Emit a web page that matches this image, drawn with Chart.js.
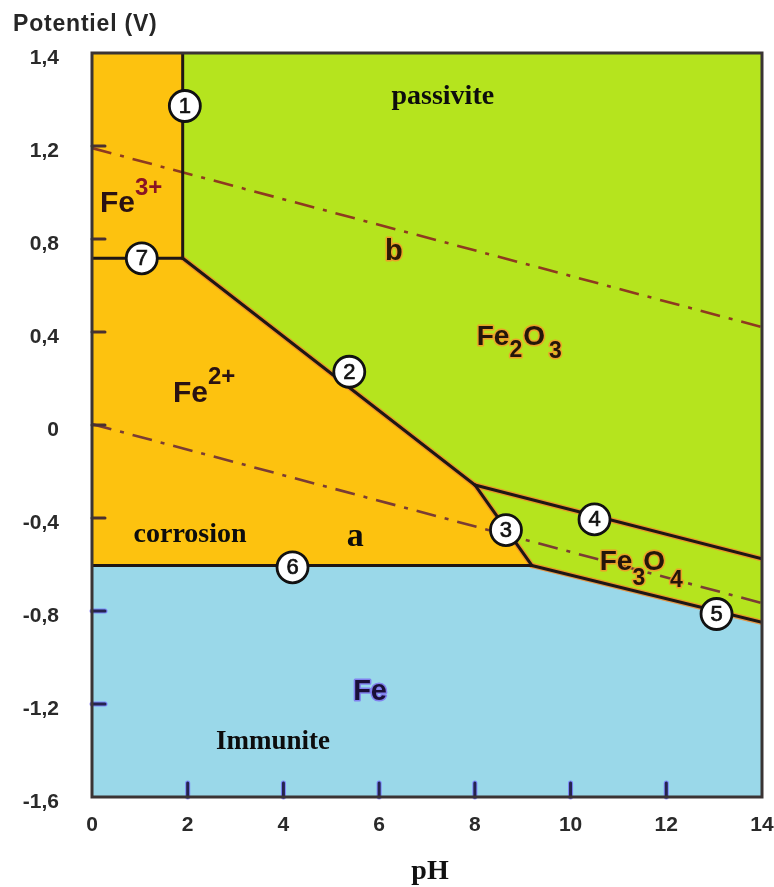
<!DOCTYPE html>
<html><head><meta charset="utf-8">
<script src="https://cdn.jsdelivr.net/npm/chart.js@4.4.1/dist/chart.umd.min.js"></script>
<style>html,body{margin:0;padding:0;background:#fff;}canvas{display:block;}</style>
</head><body>
<canvas id="c" width="774" height="887"></canvas>
<script>
// ---------- data ----------
const phTicks = [0, 2, 4, 6, 8, 10, 12, 14];
const potTickValues = [-1.6, -1.2, -0.8, -0.4, 0, 0.4, 0.8, 1.2, 1.6];
const potTickLabels = ['-1,6', '-1,2', '-0,8', '-0,4', '0', '0,4', '0,8', '1,2', '1,4'];
const innerTicksPot = [1.2, 0.8, 0.4, 0, -0.4, -0.8, -1.2];
const innerTicksPh = [2, 4, 6, 8, 10, 12];

// domain boundaries (pH, potential V)
const line1Ph = [1.895, 1.895], line1Pot = [1.6, 0.717];
const line7Ph = [0, 1.895],     line7Pot = [0.717, 0.717];
const line2Ph = [1.895, 8.0],   line2Pot = [0.717, -0.258];
const line4Ph = [8.0, 14],      line4Pot = [-0.258, -0.576];
const line3Ph = [8.0, 9.19],    line3Pot = [-0.258, -0.604];
const line6Ph = [0, 9.19],      line6Pot = [-0.604, -0.604];
const line5Ph = [9.19, 14],     line5Pot = [-0.604, -0.849];
// water stability lines a and b
const lineAPh = [0, 14], lineAPot = [0.004, -0.766];
const lineBPh = [0, 14], lineBPot = [1.191, 0.421];
// region outlines
const topPh = [0, 14], topPot = [1.6, 1.6];
const greenPh = [1.895, 1.895, 8.0, 9.19, 14], greenPot = [1.6, 0.717, -0.258, -0.604, -0.849];
const bluePh = [0, 9.19, 14], bluePot = [-0.604, -0.604, -0.849];
// numbered circles
const markerNums = ['1', '2', '3', '4', '5', '6', '7'];
const markerPh = [1.94, 5.376, 8.65, 10.50, 13.05, 4.19, 1.04];
const markerPot = [1.372, 0.229, -0.452, -0.406, -0.813, -0.612, 0.717];

const pts = (xs, ys) => xs.map((x, i) => ({x, y: ys[i]}));

const ORANGE = '#FDC20F', GREEN = '#B5E41E', BLUE = '#9AD8E9';
const LINE = '#1e1614';

function region(xs, ys, color, fill, order) {
  return {data: pts(xs, ys), showLine: true, fill, backgroundColor: color, borderColor: 'rgba(0,0,0,0)',
          borderWidth: 0, pointRadius: 0, order};
}
function seg(xs, ys, color, width, order, dash) {
  return {data: pts(xs, ys), showLine: true, fill: false, borderColor: color, borderWidth: width,
          pointRadius: 0, order, borderDash: dash || [], borderCapStyle: dash ? 'butt' : 'round'};
}

// ---------- annotations (text) ----------
const SANS = '"Liberation Sans", Arial, sans-serif';
const SERIF = '"Liberation Serif", "Times New Roman", serif';
const textLabels = [
  {x: 7.33, y: 1.411, align: 'center', color: '#0d0d0d', parts: [{t: 'passivite', font: 'bold 28px ' + SERIF}]},
  {x: 2.05, y: -0.473, align: 'center', color: '#0d0d0d', parts: [{t: 'corrosion', font: 'bold 28px ' + SERIF}]},
  {x: 5.50, y: -0.482, align: 'center', color: '#0d0d0d', parts: [{t: 'a', font: 'bold 34px ' + SERIF}]},
  {x: 3.78, y: -1.363, align: 'center', color: '#0d0d0d', parts: [{t: 'Immunite', font: 'bold 27px ' + SERIF}]},
  {x: 5.81, y: -1.148, align: 'center', color: '#1a1038', halo: 'rgba(123,108,240,0.8)', parts: [{t: 'Fe', font: 'bold 29px ' + SANS}]},
  {x: 6.12, y: 0.71, align: 'left', color: '#2b1a05', halo: 'rgba(243,150,44,0.85)', parts: [{t: 'b', font: 'bold 29px ' + SANS}]},
  {x: 0.167, y: 0.916, align: 'left', color: '#2a1212', parts: [
    {t: 'Fe', font: 'bold 30px ' + SANS},
    {t: '3+', font: 'bold 24px ' + SANS, dy: -17, color: '#8a1424'}]},
  {x: 1.69, y: 0.099, align: 'left', color: '#2a1212', parts: [
    {t: 'Fe', font: 'bold 30px ' + SANS},
    {t: '2+', font: 'bold 24px ' + SANS, dy: -18}]},
  {x: 8.04, y: 0.344, align: 'left', color: '#24160a', halo: 'rgba(243,150,44,0.85)', parts: [
    {t: 'Fe', font: 'bold 28px ' + SANS},
    {t: '2', font: 'bold 23px ' + SANS, dy: 12},
    {t: 'O', font: 'bold 28px ' + SANS, gap: 1},
    {t: '3', font: 'bold 23px ' + SANS, dy: 13, gap: 4}]},
  {x: 10.61, y: -0.624, align: 'left', color: '#24160a', halo: 'rgba(243,150,44,0.85)', parts: [
    {t: 'Fe', font: 'bold 28px ' + SANS},
    {t: '3', font: 'bold 23px ' + SANS, dy: 15},
    {t: 'O', font: 'bold 28px ' + SANS, gap: -2},
    {t: '4', font: 'bold 23px ' + SANS, dy: 17, gap: 5}]}
];

const overlay = {
  id: 'overlay',
  afterDatasetsDraw(chart) {
    const {ctx, chartArea: a} = chart;
    const sx = chart.scales.x, sy = chart.scales.y;
    ctx.save();
    // inner tick marks
    ctx.lineCap = 'round';
    innerTicksPot.forEach(v => {
      const py = sy.getPixelForValue(v);
      const onBlue = v < -0.6;
      if (onBlue) {
        ctx.strokeStyle = 'rgba(110,100,255,0.7)';
        ctx.lineWidth = 5;
        ctx.beginPath(); ctx.moveTo(a.left, py); ctx.lineTo(a.left + 13, py); ctx.stroke();
      }
      ctx.strokeStyle = onBlue ? '#25234f' : '#4a3030';
      ctx.lineWidth = 3;
      ctx.beginPath(); ctx.moveTo(a.left, py); ctx.lineTo(a.left + 13, py); ctx.stroke();
    });
    innerTicksPh.forEach(v => {
      const px = sx.getPixelForValue(v);
      ctx.strokeStyle = 'rgba(110,100,255,0.7)'; ctx.lineWidth = 5;
      ctx.beginPath(); ctx.moveTo(px, a.bottom); ctx.lineTo(px, a.bottom - 14); ctx.stroke();
      ctx.strokeStyle = '#25234f'; ctx.lineWidth = 3;
      ctx.beginPath(); ctx.moveTo(px, a.bottom); ctx.lineTo(px, a.bottom - 14); ctx.stroke();
    });
    // frame
    ctx.lineCap = 'butt';
    ctx.strokeStyle = '#3a3434'; ctx.lineWidth = 3;
    ctx.strokeRect(a.left, a.top, a.right - a.left, a.bottom - a.top);

    // circle numbers
    ctx.fillStyle = '#111';
    ctx.strokeStyle = '#111';
    ctx.lineWidth = 0.7;
    ctx.font = '22px ' + SANS;
    ctx.textAlign = 'center'; ctx.textBaseline = 'middle';
    markerNums.forEach((n, i) => {
      const px = sx.getPixelForValue(markerPh[i]), py = sy.getPixelForValue(markerPot[i]) + 1;
      ctx.fillText(n, px, py);
      ctx.strokeText(n, px, py);
    });

    // region labels
    textLabels.forEach(lab => {
      let x = sx.getPixelForValue(lab.x);
      const y = sy.getPixelForValue(lab.y);
      ctx.textBaseline = lab.align === 'center' ? 'middle' : 'alphabetic';
      ctx.textAlign = 'left';
      if (lab.align === 'center') {
        let w = 0;
        lab.parts.forEach(p => { ctx.font = p.font; w += ctx.measureText(p.t).width + (p.gap || 0); });
        x -= w / 2;
      }
      lab.parts.forEach(p => {
        ctx.font = p.font;
        x += (p.gap || 0);
        const yy = y + (p.dy || 0);
        if (lab.halo) {
          ctx.strokeStyle = lab.halo; ctx.lineWidth = 3; ctx.lineJoin = 'round';
          ctx.strokeText(p.t, x, yy);
        }
        ctx.fillStyle = p.color || lab.color;
        ctx.fillText(p.t, x, yy);
        x += ctx.measureText(p.t).width;
      });
    });

    // axis titles
    ctx.fillStyle = '#262626';
    ctx.textAlign = 'left'; ctx.textBaseline = 'alphabetic';
    ctx.font = 'bold 23px ' + SANS;
    try { ctx.letterSpacing = '0.8px'; } catch (e) {}
    ctx.fillText('Potentiel (V)', 13, 31);
    try { ctx.letterSpacing = '0px'; } catch (e) {}
    ctx.fillStyle = '#111';
    ctx.textAlign = 'center';
    ctx.font = 'bold 28px ' + SERIF;
    ctx.fillText('pH', 430, 879);
    ctx.restore();
  }
};

new Chart(document.getElementById('c'), {
  type: 'scatter',
  data: {
    datasets: [
      region(topPh, topPot, ORANGE, 'start', 100),
      region(greenPh, greenPot, GREEN, 'end', 99),
      region(bluePh, bluePot, BLUE, 'start', 98),
      seg(line2Ph, line2Pot, 'rgba(240,140,45,0.85)', 5.5, 60),
      seg(line4Ph, line4Pot, 'rgba(240,140,45,0.85)', 5.5, 60),
      seg(line3Ph, line3Pot, 'rgba(240,140,45,0.85)', 5.5, 60),
      seg(line5Ph, line5Pot, 'rgba(240,140,45,0.85)', 5.5, 60),
      seg(lineBPh, lineBPot, '#8e3a20', 2.6, 50, [20, 9, 4, 9]),
      seg(lineAPh, lineAPot, '#7a3c34', 2.6, 50, [20, 9, 4, 9]),
      seg(line1Ph, line1Pot, LINE, 3, 40),
      seg(line7Ph, line7Pot, LINE, 3, 40),
      seg(line2Ph, line2Pot, LINE, 3, 40),
      seg(line4Ph, line4Pot, LINE, 3, 40),
      seg(line3Ph, line3Pot, LINE, 3, 40),
      seg(line6Ph, line6Pot, LINE, 3, 40),
      seg(line5Ph, line5Pot, LINE, 3, 40),
      {data: pts(markerPh, markerPot), showLine: false, pointRadius: 15.5, pointBackgroundColor: '#ffffff',
       pointBorderColor: '#111111', pointBorderWidth: 2.8, order: 0}
    ]
  },
  options: {
    responsive: false,
    animation: false,
    devicePixelRatio: 1,
    events: [],
    layout: {autoPadding: false, padding: {left: 0, top: 53, right: 12, bottom: 0}},
    plugins: {legend: {display: false}, tooltip: {enabled: false}, title: {display: false}},
    scales: {
      x: {
        type: 'linear', position: 'bottom', min: 0, max: 14,
        afterBuildTicks: s => { s.ticks = phTicks.map(v => ({value: v})); },
        afterFit: s => { s.height = 90; s.paddingLeft = 0; s.paddingRight = 0; },
        grid: {display: false, drawTicks: false},
        border: {display: false},
        ticks: {padding: 16, color: '#2a2a2a', autoSkip: false, maxRotation: 0,
                font: {family: SANS, weight: 'bold', size: 21},
                callback: v => String(v)}
      },
      y: {
        type: 'linear', position: 'left', min: -1.6, max: 1.6,
        afterBuildTicks: s => { s.ticks = potTickValues.map(v => ({value: v})); },
        afterFit: s => { s.width = 92; s.paddingTop = 0; s.paddingBottom = 0; },
        grid: {display: false, drawTicks: false},
        border: {display: false},
        ticks: {padding: 33, labelOffset: 5, color: '#2a2a2a', autoSkip: false,
                font: {family: SANS, weight: 'bold', size: 21},
                callback: (v, i) => potTickLabels[i]}
      }
    }
  },
  plugins: [overlay]
});
</script>
</body></html>
